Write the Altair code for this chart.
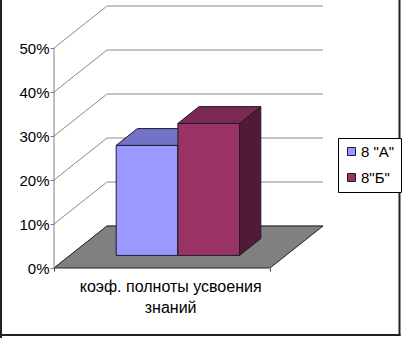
import altair as alt
import pandas as pd

# ---- data ----
category_lines = ["коэф. полноты усвоения", "знаний"]
series = ['8 "А"', '8"Б"']
values = [25, 30]
ticks = [0, 10, 20, 30, 40, 50]

colors_front = ["#9999FF", "#993366"]
colors_top = ["#7272C6", "#7A2952"]
colors_side = ["#5A5A9E", "#521A36"]

# ---- 3-D projection constants (oblique) ----
D = 24.54      # depth shift in x units
DV = 9.545     # depth shift in value units
F0, F1 = 0.3, 0.7
W = 100 / 3.5  # bar width (gap width 150%)
START = (100 - 2 * W) / 2

X_SCALE = alt.Scale(domain=[0, 125], nice=False, zero=False)
Y_SCALE = alt.Scale(domain=[0, 60], nice=False, zero=False)
FONT = "Liberation Sans"
EDGE = "#1c1c30"

X_AXIS = alt.Axis(values=[0, 100], labels=False, domain=False, grid=False,
                  tickSize=3, tickColor="#333333", title=None)
Y_AXIS = alt.Axis(values=ticks, labelExpr="datum.value + '%'", domain=False,
                  grid=False, tickSize=4, tickColor="#808080", labelFont=FONT,
                  labelFontSize=15, labelColor="black", labelPadding=1, title=None)


def X(f):
    return alt.X(f"{f}:Q", scale=X_SCALE, axis=X_AXIS)


def Y(f):
    return alt.Y(f"{f}:Q", scale=Y_SCALE, axis=Y_AXIS)


# gridlines: left wall diagonal + back wall horizontal
grid_rows = []
for t in ticks:
    grid_rows += [
        {"t": t, "o": 0, "x": 0, "y": t},
        {"t": t, "o": 1, "x": D, "y": t + DV},
        {"t": t, "o": 2, "x": 100 + D, "y": t + DV},
    ]
grid = alt.Chart(pd.DataFrame(grid_rows)).mark_line(
    color="#8a8a8a", strokeWidth=1).encode(
    x=X("x"), y=Y("y"), detail="t:N", order="o:Q")

front_axis = alt.Chart(pd.DataFrame({"x": [0], "y": [0], "y2": [ticks[-1]]})).mark_rule(
    color="#808080", strokeWidth=1).encode(x=X("x"), y=Y("y"), y2="y2:Q")

floor = alt.Chart(pd.DataFrame({"y": [0, DV], "x": [0, D], "x2": [100, 100 + D]})).mark_area(
    orient="horizontal", color="#808080", stroke="#222222", strokeWidth=1).encode(
    y=Y("y"), x=X("x"), x2="x2:Q")

layers = [grid, floor, front_axis]

for i, (s, h) in enumerate(zip(series, values)):
    u0 = START + i * W
    u1 = u0 + W
    front = alt.Chart(pd.DataFrame({
        "series": [s], "x": [u0 + F0 * D], "x2": [u1 + F0 * D],
        "y": [F0 * DV], "y2": [h + F0 * DV]})).mark_rect(
        stroke=EDGE, strokeWidth=1).encode(
        x=X("x"), x2="x2:Q", y=Y("y"), y2="y2:Q",
        color=alt.Color("series:N", scale=alt.Scale(domain=series, range=colors_front),
                        legend=alt.Legend(title=None, orient="none", legendX=284, legendY=134,
                                          fillColor="white", strokeColor="black", padding=6,
                                          symbolType="square", symbolSize=64,
                                          symbolStrokeColor=EDGE, symbolStrokeWidth=1,
                                          symbolOpacity=1,
                                          labelFont=FONT, labelFontSize=15, labelColor="black",
                                          rowPadding=10, labelOffset=2, cornerRadius=0)))
    top = alt.Chart(pd.DataFrame({
        "y": [h + F0 * DV, h + F1 * DV],
        "x": [u0 + F0 * D, u0 + F1 * D],
        "x2": [u1 + F0 * D, u1 + F1 * D]})).mark_area(
        orient="horizontal", color=colors_top[i], stroke=EDGE, strokeWidth=1).encode(
        y=Y("y"), x=X("x"), x2="x2:Q")
    side = alt.Chart(pd.DataFrame({
        "x": [u1 + F0 * D, u1 + F1 * D],
        "y": [F0 * DV, F1 * DV],
        "y2": [h + F0 * DV, h + F1 * DV]})).mark_area(
        orient="vertical", color=colors_side[i], stroke=EDGE, strokeWidth=1).encode(
        x=X("x"), y=Y("y"), y2="y2:Q")
    layers += [front, top, side]

label = alt.Chart(pd.DataFrame({"x": [54], "y": [-5.45],
                                "text": ["\n".join(category_lines)]})).mark_text(
    align="center", baseline="alphabetic", font=FONT, fontSize=16, color="black",
    lineBreak="\n", lineHeight=21).encode(x=X("x"), y=Y("y"), text="text:N")
layers.append(label)

# outer frame
frame = alt.Chart(pd.DataFrame({"k": [0]})).mark_rule(color="#222222", strokeWidth=2)
layers += [
    frame.encode(x=alt.value(-53), y=alt.value(-4), y2=alt.value(334)),
    frame.encode(x=alt.value(345.5), y=alt.value(-4), y2=alt.value(332)),
    frame.encode(x=alt.value(-54), x2=alt.value(346.5), y=alt.value(331)),
]

chart = alt.layer(*layers).properties(
    width=270, height=264,
    padding={"left": 54, "top": 4, "right": 81, "bottom": 70},
    autosize=alt.AutoSizeParams(type="none"),
    background="white",
).configure_view(stroke=None)

chart.save("out.html", embed_options={"renderer": "svg", "actions": False})
